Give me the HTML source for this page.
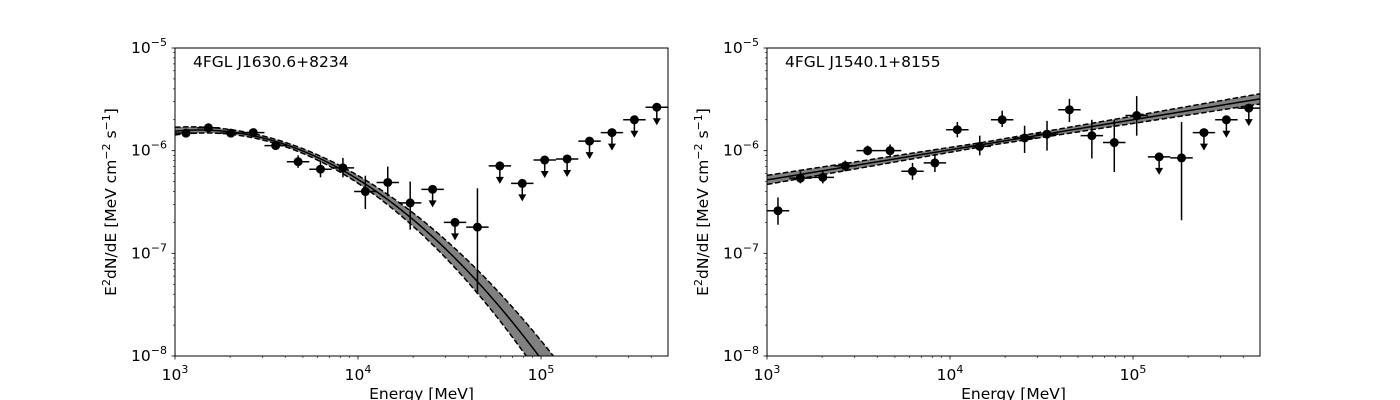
<!DOCTYPE html>
<html><head><meta charset="utf-8"><style>html,body{margin:0;background:#fff;width:1400px;height:400px;overflow:hidden}svg{display:block;font-family:"DejaVu Sans","Liberation Sans",sans-serif}</style></head>
<body>
<svg id="c" width="1400" height="400"></svg>
<script>
// Panel 1 data (log-spaced energy bins)
const logE0 = 3.06, dLogE = 0.1225;
const p1Flux = [1.48e-6,1.67e-6,1.48e-6,1.5e-6,1.12e-6,0.78e-6,0.66e-6,0.68e-6,0.40e-6,0.49e-6,0.31e-6,0.42e-6,0.20e-6,0.18e-6,0.71e-6,0.48e-6,0.81e-6,0.83e-6,1.24e-6,1.5e-6,2.0e-6,2.65e-6];
const p1Lo = [1.4e-6,1.6e-6,1.42e-6,1.4e-6,1.02e-6,0.68e-6,0.55e-6,0.55e-6,0.27e-6,0.36e-6,0.17e-6,0,0,0.04e-6,0,0,0,0,0,0,0,0];
const p1Hi = [1.56e-6,1.74e-6,1.55e-6,1.6e-6,1.22e-6,0.9e-6,0.8e-6,0.85e-6,0.57e-6,0.7e-6,0.5e-6,0,0,0.43e-6,0,0,0,0,0,0,0,0];
const p1UL = [0,0,0,0,0,0,0,0,0,0,0,1,1,0,1,1,1,1,1,1,1,1];
const p1Model = {a:-5.81,b:0.169,c:-0.639};
// Panel 2 data
const p2Flux = [2.6e-7,5.4e-7,5.5e-7,7.1e-7,1.0e-6,1.0e-6,6.3e-7,7.6e-7,1.6e-6,1.1e-6,2.0e-6,1.33e-6,1.45e-6,2.5e-6,1.4e-6,1.2e-6,2.2e-6,8.7e-7,8.5e-7,1.5e-6,2.0e-6,2.6e-6];
const p2Lo = [1.9e-7,4.8e-7,4.8e-7,6.3e-7,0.9e-6,0.87e-6,5.2e-7,6.2e-7,1.35e-6,0.9e-6,1.7e-6,0.95e-6,1.0e-6,1.9e-6,0.84e-6,0.62e-6,1.4e-6,0,2.1e-7,0,0,0];
const p2Hi = [3.5e-7,6.3e-7,6.4e-7,8.0e-7,1.12e-6,1.15e-6,7.6e-7,9.3e-7,1.9e-6,1.4e-6,2.45e-6,1.75e-6,1.95e-6,3.2e-6,2.0e-6,2.0e-6,3.4e-6,0,1.9e-6,0,0,0];
const p2UL = [0,0,0,0,0,0,0,0,0,0,0,0,0,0,0,0,0,1,0,1,1,1];
const p2Model = {a:-6.285,b:0.293};
const xTicks = ['3','4','5'];
const yTicks = ['-5','-6','-7','-8'];

const NS='http://www.w3.org/2000/svg', svg=document.getElementById('c');
function mk(t,at,par){const e=document.createElementNS(NS,t);for(const k in at)e.setAttribute(k,at[k]);(par||svg).appendChild(e);return e;}
const Y0=48,Y1=356,XMAX=Math.log10(4.94e5);
function panel(L,R,name,title,flux,lo,hi,ul,modelF,bandW){
  const g=mk('g',{});
  
  
  const sx=le=>L+(le-3)/(XMAX-3)*(R-L);
  const sy=lf=>Y0+(-5-lf)/3*(Y1-Y0);
  const clip=mk('clipPath',{id:'cl'+name},g);mk('rect',{x:L,y:Y0,width:R-L,height:Y1-Y0},clip);
  const pg=mk('g',{'clip-path':'url(#cl'+name+')'},g);
  let up=[],dn=[],mid=[];
  for(let i=0;i<=200;i++){const le=3+i/200*(XMAX-3),u=le-3,f=modelF(u),w=bandW(u);
    up.push(sx(le)+','+sy(f+w));dn.push(sx(le)+','+sy(f-w));mid.push(sx(le)+','+sy(f));}
  const band=mk('polygon',{points:up.concat(dn.slice().reverse()).join(' '),fill:'#808080'},pg);
  
  mk('polyline',{points:up.join(' '),fill:'none',stroke:'#000','stroke-width':1.5,'stroke-dasharray':'5.5,2.5'},pg);
  mk('polyline',{points:dn.join(' '),fill:'none',stroke:'#000','stroke-width':1.5,'stroke-dasharray':'5.5,2.5'},pg);
  const ml=mk('polyline',{points:mid.join(' '),fill:'none',stroke:'#000','stroke-width':1.5},pg);
  
  flux.forEach((f,i)=>{const le=logE0+dLogE*i,x=sx(le),y=sy(Math.log10(f));
    const pt=mk('g',{},pg);
    
    
    mk('line',{x1:sx(le-dLogE/2),x2:sx(le+dLogE/2),y1:y,y2:y,stroke:'#000','stroke-width':1.5},pt);
    if(ul[i]){mk('line',{x1:x,x2:x,y1:y,y2:y+13,stroke:'#000','stroke-width':1.5},pt);
      mk('polygon',{points:`${x-4},${y+11} ${x+4},${y+11} ${x},${y+18}`,fill:'#000'},pt);}
    else mk('line',{x1:x,x2:x,y1:sy(Math.log10(hi[i])),y2:sy(Math.log10(lo[i])),stroke:'#000','stroke-width':1.5},pt);
    mk('circle',{cx:x,cy:y,r:4.5,fill:'#000'},pt);});
  mk('rect',{x:L,y:Y0,width:R-L,height:Y1-Y0,fill:'none',stroke:'#000','stroke-width':1},g);
  for(let d=3;d<6;d++)for(let m=1;m<10;m++){const le=d+Math.log10(m);if(le>XMAX)break;const x=sx(le);
    mk('line',{x1:x,x2:x,y1:Y1,y2:Y1+(m==1?3.5:2),stroke:'#000','stroke-width':m==1?0.8:0.6},g);}
  xTicks.forEach(t=>{const x=sx(+t);const tx=mk('text',{x:x,y:Y1+24,'text-anchor':'middle','font-size':15.5},g);
    
    tx.innerHTML='10<tspan dy="-7" font-size="11">'+t+'</tspan>';});
  for(let d=-8;d<-5;d++)for(let m=1;m<10;m++){const y=sy(d+Math.log10(m));
    mk('line',{x1:L,x2:L-(m==1?3.5:2),y1:y,y2:y,stroke:'#000','stroke-width':m==1?0.8:0.6},g);}
  mk('line',{x1:L,x2:L-3.5,y1:Y0,y2:Y0,stroke:'#000','stroke-width':0.8},g);
  yTicks.forEach(t=>{const y=sy(+t);const tx=mk('text',{x:L-8,y:y+5,'text-anchor':'end','font-size':15.5},g);
    
    tx.innerHTML='10<tspan dy="-7" font-size="11">\u2212'+t.slice(1)+'</tspan>';});
  const tt=mk('text',{x:L+18,y:67,'font-size':15.5},g);tt.textContent=title;
  
  const xl=mk('text',{x:(L+R)/2,y:399,'text-anchor':'middle','font-size':15.5},g);xl.textContent='Energy [MeV]';
  
  const yl=mk('text',{x:0,y:0,'text-anchor':'middle','font-size':15.5,transform:`translate(${L-59},${(Y0+Y1)/2}) rotate(-90)`},g);
  
  yl.innerHTML='E<tspan dy="-6" font-size="11">2</tspan><tspan dy="6">dN/dE [MeV cm</tspan><tspan dy="-6" font-size="11">\u22122</tspan><tspan dy="6"> s</tspan><tspan dy="-6" font-size="11">\u22121</tspan><tspan dy="6">]</tspan>';
}
panel(175,668,'panel-j1630','4FGL J1630.6+8234',p1Flux,p1Lo,p1Hi,p1UL,
  u=>p1Model.a+p1Model.b*u+p1Model.c*u*u,u=>0.02+0.07*(u-0.5)*(u-0.5));
panel(767,1260,'panel-j1540','4FGL J1540.1+8155',p2Flux,p2Lo,p2Hi,p2UL,
  u=>p2Model.a+p2Model.b*u,u=>0.02+0.02*Math.abs(u-1.2));
</script>
</body></html>
